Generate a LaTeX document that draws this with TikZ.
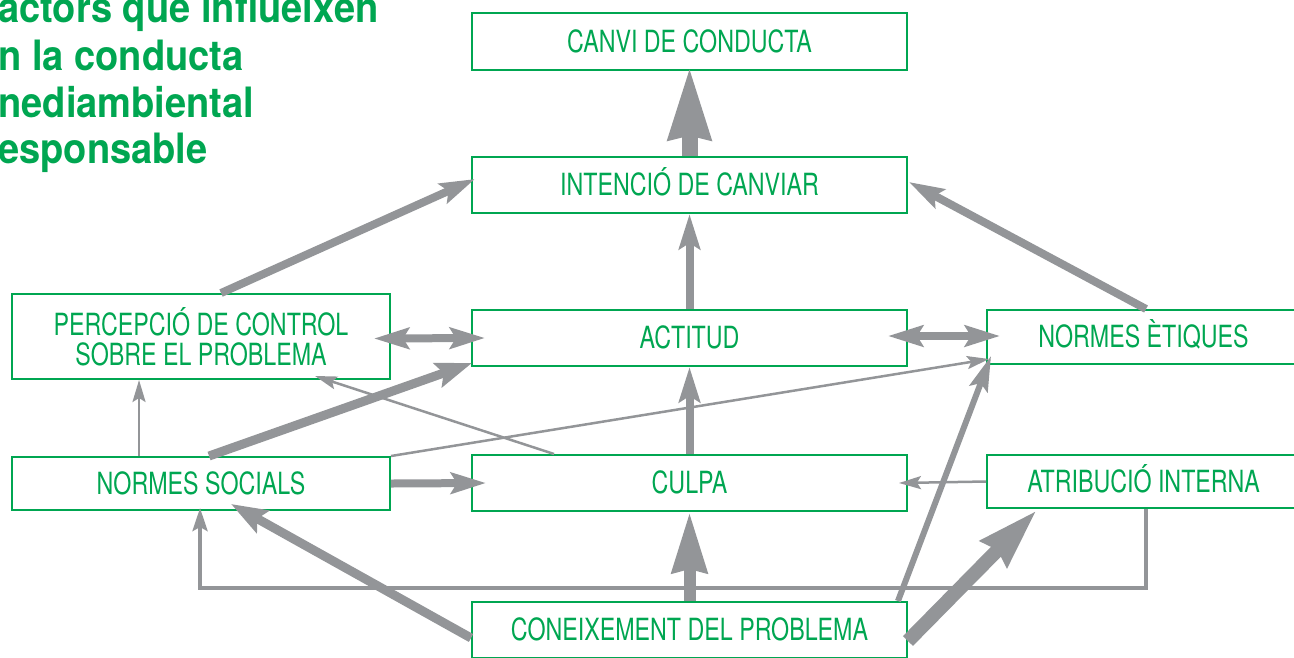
\documentclass[tikz,border=0pt]{standalone}
\usepackage{fontspec}
\usepackage{tikz}
\usetikzlibrary{arrows.meta,calc}

\newfontfamily\boxfont[FakeStretch=0.76]{TeX Gyre Heros}
\newfontfamily\titlefont[FakeStretch=0.91]{TeX Gyre Heros}
\definecolor{cgreen}{RGB}{0,166,81}
\definecolor{cgray}{RGB}{147,149,152}

\begin{document}
\begin{tikzpicture}[x=0.02cm, y=-0.02cm,
		boxbase/.style={draw=cgreen, line width=0.4mm, inner sep=0pt, text=cgreen, font=\boxfont\fontsize{17.4}{17}\selectfont},
		box/.style={boxbase, text height=12.5pt, text depth=0pt},
		ttl/.style={anchor=base west, inner sep=0pt, text=cgreen, font=\titlefont\bfseries\fontsize{23.8}{26.6}\selectfont},
		arr/.style={draw=cgray},
		thinarr/.style={arr, line width=0.5mm, -{Stealth[length=4.4mm, width=2.6mm, inset=0.8mm]}},
		linkarr/.style={arr, line width=0.8mm, -{Stealth[length=4.6mm, width=3mm, inset=0.8mm]}},
		midarr/.style={arr, line width=1.2mm, -{Stealth[length=7mm, width=3.8mm, inset=1.2mm]}},
		medarr/.style={arr, line width=1.6mm, -{Stealth[length=7mm, width=4.2mm, inset=1.2mm]}},
		dblarr/.style={arr, line width=1.6mm, {Stealth[length=7mm, width=4.2mm, inset=1.2mm]}-{Stealth[length=7mm, width=4.2mm, inset=1.2mm]}},
		thickarr/.style={arr, line width=1.8mm, -{Stealth[length=7.2mm, width=5mm, inset=1.2mm]}}
	]
	\clip (0,0) rectangle (1294,657);

	% title
	\node[ttl] (title1) at (-2,22) {actors que influeixen};
	\node[ttl] (title2) at (-2,70) {n la conducta};
	\node[ttl] (title3) at (-2,117) {nediambiental};
	\node[ttl] (title4) at (-2,163) {esponsable};

	% boxes
	\node[box, minimum width=8.7cm, minimum height=1.14cm] (canvi) at (689.5,41.5) {CANVI DE CONDUCTA};
	\node[box, minimum width=8.7cm, minimum height=1.12cm] (intencio) at (689.5,185) {INTENCIÓ DE CANVIAR};
	\node[boxbase, align=center, minimum width=7.56cm, minimum height=1.7cm] (percepcio) at (201,336.5) {PERCEPCIÓ DE CONTROL\\SOBRE EL PROBLEMA};
	\node[box, minimum width=8.7cm, minimum height=1.12cm] (actitud) at (689.5,338) {ACTITUD};
	\node[box, minimum width=6.26cm, minimum height=1.08cm] (etiques) at (1143.5,337) {NORMES ÈTIQUES};
	\node[box, minimum width=7.56cm, minimum height=1.06cm] (socials) at (201,483.5) {NORMES SOCIALS};
	\node[box, minimum width=8.7cm, minimum height=1.12cm] (culpa) at (689.5,483) {CULPA};
	\node[box, minimum width=6.26cm, minimum height=1.06cm] (atribucio) at (1143.5,481.5) {ATRIBUCIÓ INTERNA};
	\node[box, minimum width=8.7cm, minimum height=1.12cm] (coneixement) at (689.5,630) {CONEIXEMENT DEL PROBLEMA};

	% arrows
	\draw[arr, line width=3.2mm, -{Stealth[length=14.4mm, width=8mm, inset=0.5mm]}] (intencio.north) -- ($(canvi.south)+(0,-5)$);
	\draw[medarr] (actitud.north) -- (intencio.south);
	\draw[medarr] ($(percepcio.north west)+(210,0)$) -- ($(intencio.west)+(4,-6)$);
	\draw[medarr] ($(etiques.north west)+(160,0)$) -- ($(intencio.east)+(1,-3)$);
	\draw[dblarr] ($(percepcio.east)+(-17,2)$) -- ($(actitud.west)+(14,0)$);
	\draw[dblarr] ($(actitud.east)+(-20,-2)$) -- ($(etiques.west)+(14,-1)$);
	\draw[thinarr] ($(socials.north west)+(128,0)$) -- ($(percepcio.south west)+(128,0)$);
	\draw[thickarr] ($(socials.north west)+(198,0)$) -- ($(actitud.south west)+(1,-4)$);
	\draw[thinarr] ($(culpa.north west)+(83,0)$) -- ($(percepcio.south west)+(304,-4)$);
	\draw[thinarr] (socials.north east) -- ($(etiques.south west)+(3,-6)$);
	\draw[medarr] (socials.east) -- ($(culpa.west)+(15,0)$);
	\draw[medarr] (culpa.north) -- (actitud.south);
	\draw[thinarr] (atribucio.west) -- ($(culpa.east)+(-9,0)$);
	\draw[arr, line width=2.4mm, -{Stealth[length=12mm, width=6.8mm, inset=0.6mm]}] (coneixement.north) -- (culpa.south);
	\draw[thickarr] ($(coneixement.west)+(0,8)$) -- ($(socials.south west)+(220,-7)$);
	\draw[midarr] ($(coneixement.north east)+(-10,0)$) -- ($(etiques.south west)+(5,-9)$);
	\draw[arr, line width=2.8mm, -{Stealth[length=12mm, width=7mm, inset=0.8mm]}] ($(coneixement.east)+(0,11)$) -- ($(atribucio.south west)+(51,1)$);
	\draw[linkarr] ($(atribucio.south west)+(160,0)$) -- ++(0,79) -| ($(socials.south west)+(189,-3)$);
\end{tikzpicture}
\end{document}
